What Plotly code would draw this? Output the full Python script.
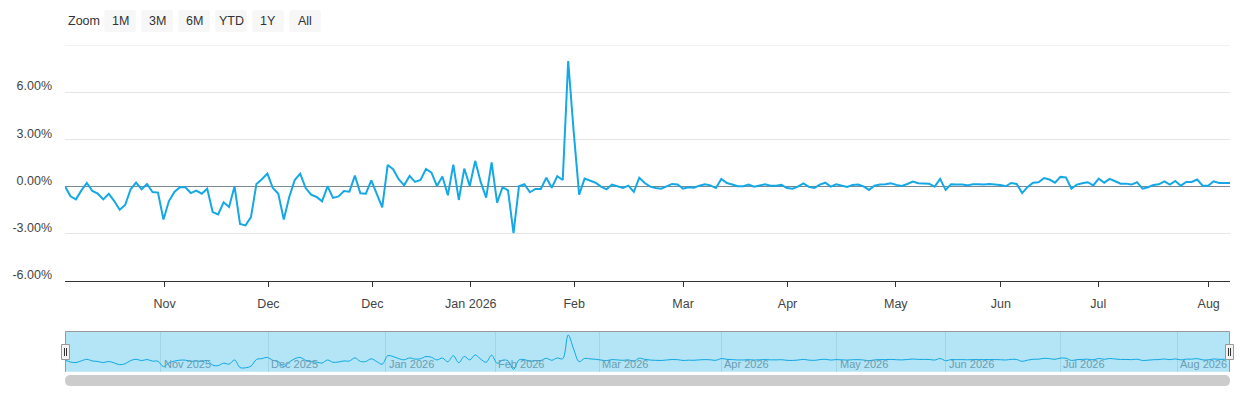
import plotly.graph_objects as go

# daily change in % (ordinal trading days)
changes = [
    0.0, -0.64, -0.83, -0.26, 0.21, -0.30, -0.47, -0.83, -0.47, -0.94,
    -1.49, -1.19, -0.19, 0.23, -0.19, 0.15, -0.36, -0.40, -2.11, -0.94,
    -0.36, -0.06, -0.06, -0.43, -0.28, -0.47, -0.15, -1.64, -1.79, -1.02,
    -1.32, 0.0, -2.40, -2.49, -1.96, 0.15, 0.45, 0.81, -0.11, -0.47,
    -2.11, -0.68, 0.40, 0.81, -0.11, -0.53, -0.68, -0.96, 0.0, -0.74,
    -0.64, -0.30, -0.34, 0.68, -0.45, -0.47, 0.38, -0.51, -1.34, 1.36,
    1.09, 0.45, 0.06, 0.66, 0.28,
    0.40, 1.11, 0.87, 0.02, 0.62, -0.57, 1.38, -0.87, 1.13, 0.02,
    1.62, 0.28, -0.72, 1.53, -1.04, -0.06, -0.26, -2.98, 0.0, 0.13,
    -0.38, -0.17, -0.17, 0.55, -0.09, 0.64, 0.40, 7.98, 3.50, -0.53,
    0.49, 0.36, 0.23, -0.02, -0.19, 0.11, 0.02, -0.11, 0.04, -0.36,
    0.55, 0.21, -0.02, -0.11,
    -0.15, 0.0, 0.15, 0.11, -0.15, -0.06, -0.09, 0.04, 0.13, 0.06,
    -0.11, 0.47, 0.21, 0.11, 0.0, 0.0, 0.11, -0.02, 0.06, 0.13,
    0.04, 0.04, 0.09, -0.11, -0.15, -0.02, 0.19, -0.04, -0.11, 0.11,
    0.23, -0.02, 0.13, 0.06,
    -0.04, 0.09, 0.11, 0.0, -0.23, 0.04, 0.11, 0.13, 0.19, 0.09,
    0.02, 0.15, 0.30, 0.19, 0.19, 0.17, -0.02, 0.47, -0.23, 0.13,
    0.11, 0.11, 0.06, 0.13, 0.13, 0.11, 0.15, 0.13, 0.09, 0.0,
    0.21, 0.15, -0.43, -0.04, 0.23,
    0.26, 0.53, 0.43, 0.23, 0.60, 0.57, -0.15, 0.11, 0.19, 0.26,
    0.06, 0.49, 0.23, 0.47, 0.32, 0.17, 0.17, 0.11, 0.26, -0.15,
    -0.06, 0.09, 0.13, 0.32, 0.11, 0.34, 0.04, 0.28, 0.28, 0.43,
    0.04, 0.04, 0.32, 0.21, 0.21, 0.21,
]
days = list(range(len(changes)))

# main axis labels (ordinal positions)
main_tick_pos = [18.2, 37.2, 56.2, 74.2, 93.1, 113.0, 132.1, 151.9, 171.1, 188.9, 209.1]
main_tick_text = ["Nov", "Dec", "Dec", "Jan 2026", "Feb", "Mar", "Apr", "May", "Jun", "Jul", "Aug"]

# navigator month lines
nav_tick_pos = [17.5, 37.2, 58.6, 78.7, 97.7, 120.0, 141.1, 161.0, 182.0, 203.4]
nav_tick_text = ["Nov 2025", "Dec 2025", "Jan 2026", "Feb 2026", "Mar 2026",
                 "Apr 2026", "May 2026", "Jun 2026", "Jul 2026", "Aug 2026"]

y_ticks = [-6, -3, 0, 3, 6, 9]
y_tick_text = ["-6.00%", "-3.00%", "0.00%", "3.00%", "6.00%", ""]

buttons = ["1M", "3M", "6M", "YTD", "1Y", "All"]

LINE = "#14a8e6"
FONT = "Liberation Sans, Arial, sans-serif"


def px(x):
    return (x - 65) / 1165


def py(y):
    return 1 - y / 400


def rounded(x0, y0, x1, y1, r):
    # rounded rect in pixel coords -> paper path
    pts = [
        ("M", x0 + r, y0), ("L", x1 - r, y0), ("Q", x1, y0, x1, y0 + r),
        ("L", x1, y1 - r), ("Q", x1, y1, x1 - r, y1), ("L", x0 + r, y1),
        ("Q", x0, y1, x0, y1 - r), ("L", x0, y0 + r), ("Q", x0, y0, x0 + r, y0),
    ]
    out = ""
    for p in pts:
        cmd = p[0]
        coords = p[1:]
        s = " ".join("%.5f,%.5f" % (px(coords[i]), py(coords[i + 1])) for i in range(0, len(coords), 2))
        out += cmd + s + " "
    return out + "Z"


fig = go.Figure()

fig.add_trace(go.Scatter(x=days, y=changes, mode="lines",
                         line=dict(color=LINE, width=2), xaxis="x", yaxis="y",
                         hoverinfo="skip"))
fig.add_trace(go.Scatter(x=days, y=changes, mode="lines",
                         line=dict(color="#0ea6e2", width=1, shape="spline"),
                         xaxis="x2", yaxis="y2", hoverinfo="skip"))

shapes = []
# top grid line (range edge)
shapes.append(dict(type="line", xref="x domain", yref="y", x0=0, x1=1,
                   y0=y_ticks[-1], y1=y_ticks[-1],
                   line=dict(color="#e6e6e6", width=1), layer="below"))
# navigator background
shapes.append(dict(type="rect", xref="paper", yref="paper", x0=0, x1=1,
                   y0=py(371.7), y1=py(331.3), fillcolor="#b3e5f6",
                   line=dict(width=0), layer="below"))
# navigator outline
shapes.append(dict(type="path", xref="paper", yref="paper",
                   path="M%.5f,%.5f L%.5f,%.5f L%.5f,%.5f L%.5f,%.5f" % (
                       px(65.5), py(371.7), px(65.5), py(331.5),
                       px(1229.5), py(331.5), px(1229.5), py(371.7)),
                   line=dict(color="#999999", width=1)))
# handles
for cx in (65.5, 1229.5):
    shapes.append(dict(type="rect", xref="paper", yref="paper",
                       x0=px(cx - 4), x1=px(cx + 4), y0=py(359.5), y1=py(344.5),
                       fillcolor="#f2f2f2", line=dict(color="#999999", width=1)))
    for dx in (-1, 1):
        shapes.append(dict(type="line", xref="paper", yref="paper",
                           x0=px(cx + dx), x1=px(cx + dx), y0=py(348), y1=py(356),
                           line=dict(color="#333333", width=1)))
# scrollbar
shapes.append(dict(type="path", xref="paper", yref="paper",
                   path=rounded(65, 375, 1230, 386, 5.5),
                   fillcolor="#cccccc", line=dict(width=0)))

annotations = []
annotations.append(dict(text="Zoom", xref="paper", yref="paper", x=px(66), y=py(21.5),
                        xanchor="left", yanchor="middle", showarrow=False,
                        font=dict(family=FONT, size=12.5, color="#333333")))
bx = 104.3
for b in buttons:
    shapes.append(dict(type="path", xref="paper", yref="paper",
                       path=rounded(bx, 10, bx + 31.5, 32, 2),
                       fillcolor="#f7f7f7", line=dict(width=0)))
    annotations.append(dict(text=b, xref="paper", yref="paper", x=px(bx + 15.75), y=py(21.5),
                            xanchor="center", yanchor="middle", showarrow=False,
                            font=dict(family=FONT, size=12.5, color="#333333")))
    bx += 37

for pos, lab in zip(nav_tick_pos, nav_tick_text):
    annotations.append(dict(text=lab, xref="x2", yref="paper", x=pos, y=py(364),
                            xanchor="left", yanchor="middle", xshift=1, showarrow=False,
                            font=dict(family=FONT, size=11, color="#6b9cb2")))

fig.update_layout(
    width=1240, height=400,
    margin=dict(l=65, r=10, t=0, b=0, autoexpand=False),
    paper_bgcolor="white", plot_bgcolor="rgba(0,0,0,0)",
    showlegend=False, hovermode=False,
    font=dict(family=FONT, size=12.5, color="#444444"),
    xaxis=dict(domain=[0, 1], range=[0, len(changes) - 1], showgrid=False,
               zeroline=False, showline=True, linecolor="#333333", linewidth=1,
               ticks="outside", ticklen=5, tickcolor="#333333",
               tickvals=main_tick_pos, ticktext=main_tick_text,
               tickfont=dict(size=12.5, color="#444444"), ticklabelstandoff=6,
               automargin=False, anchor="y"),
    yaxis=dict(domain=[py(280.5), py(45)], range=[-6, 9], tickvals=y_ticks,
               ticktext=y_tick_text, showgrid=True, gridcolor="#e6e6e6", gridwidth=1,
               zeroline=True, zerolinecolor="#7a8896", zerolinewidth=1,
               showline=False, ticks="", ticklabelstandoff=12, ticklabelshift=-6,
               tickfont=dict(size=12.5, color="#444444"), automargin=False, anchor="x"),
    xaxis2=dict(domain=[0, 1], range=[0, len(changes) - 1], showgrid=True,
                gridcolor="#a1d4e4", gridwidth=1, tickvals=nav_tick_pos,
                showticklabels=False, ticks="", zeroline=False, showline=False,
                automargin=False, anchor="y2"),
    yaxis2=dict(domain=[py(371.7), py(331.3)], range=[-3.74, 9.17], visible=False,
                showgrid=False, zeroline=False, automargin=False, anchor="x2"),
    shapes=shapes,
    annotations=annotations,
)

fig.write_html("out.html", config={"displayModeBar": False},
               post_script="document.body.style.margin='0';")
